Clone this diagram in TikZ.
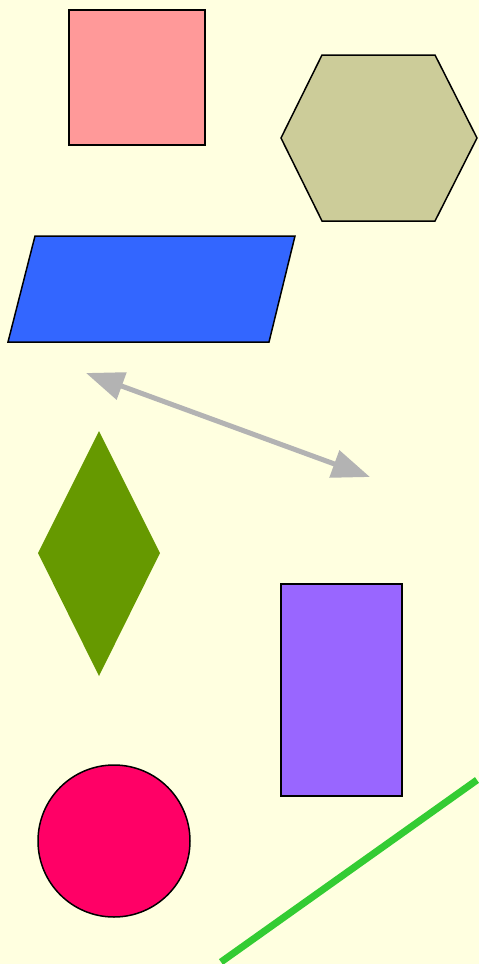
\documentclass[tikz,border=0pt]{standalone}
\usetikzlibrary{arrows.meta}
\definecolor{bgyellow}{HTML}{FFFFE0}
\definecolor{sqpink}{HTML}{FF9999}
\definecolor{hexolive}{HTML}{CCCC99}
\definecolor{parblue}{HTML}{3366FF}
\definecolor{diagreen}{HTML}{669900}
\definecolor{rectpurple}{HTML}{9966FF}
\definecolor{circred}{HTML}{FF0066}
\definecolor{linegreen}{HTML}{33CC33}
\definecolor{arrgray}{HTML}{B3B3B3}
\begin{document}
\begin{tikzpicture}[
    x=1pt, y=-1pt,
    outlined/.style={draw=black, line width=1.5pt, line join=miter},
    arr/.style={{Triangle[length=38pt, width=28pt]}-{Triangle[length=38pt, width=28pt]}, line width=5pt, arrgray},
    slash/.style={line width=7pt, linegreen}
]
\fill[bgyellow] (0,0) rectangle (479,964);
\useasboundingbox (0,0) rectangle (479,964);

\draw[outlined, fill=sqpink] (69,10) rectangle (205,145);
\draw[outlined, fill=hexolive] (322,55) -- (435,55) -- (477,138) -- (435,221) -- (322,221) -- (281,138) -- cycle;
\draw[outlined, fill=parblue] (35,236) -- (295,236) -- (269,342) -- (8,342) -- cycle;

\coordinate (arrstart) at (86,373);
\coordinate (arrend) at (370,477);
\draw[arr] (arrstart) -- (arrend);

\fill[diagreen] (99,431) -- (160,553) -- (99,676) -- (38,553) -- cycle;
\draw[outlined, fill=rectpurple] (281,584) rectangle (402,796);
\draw[outlined, fill=circred] (114,841) circle (76);

\coordinate (slashlow) at (221,962);
\coordinate (slashhigh) at (477,780);
\draw[slash] (slashlow) -- (slashhigh);
\end{tikzpicture}
\end{document}
